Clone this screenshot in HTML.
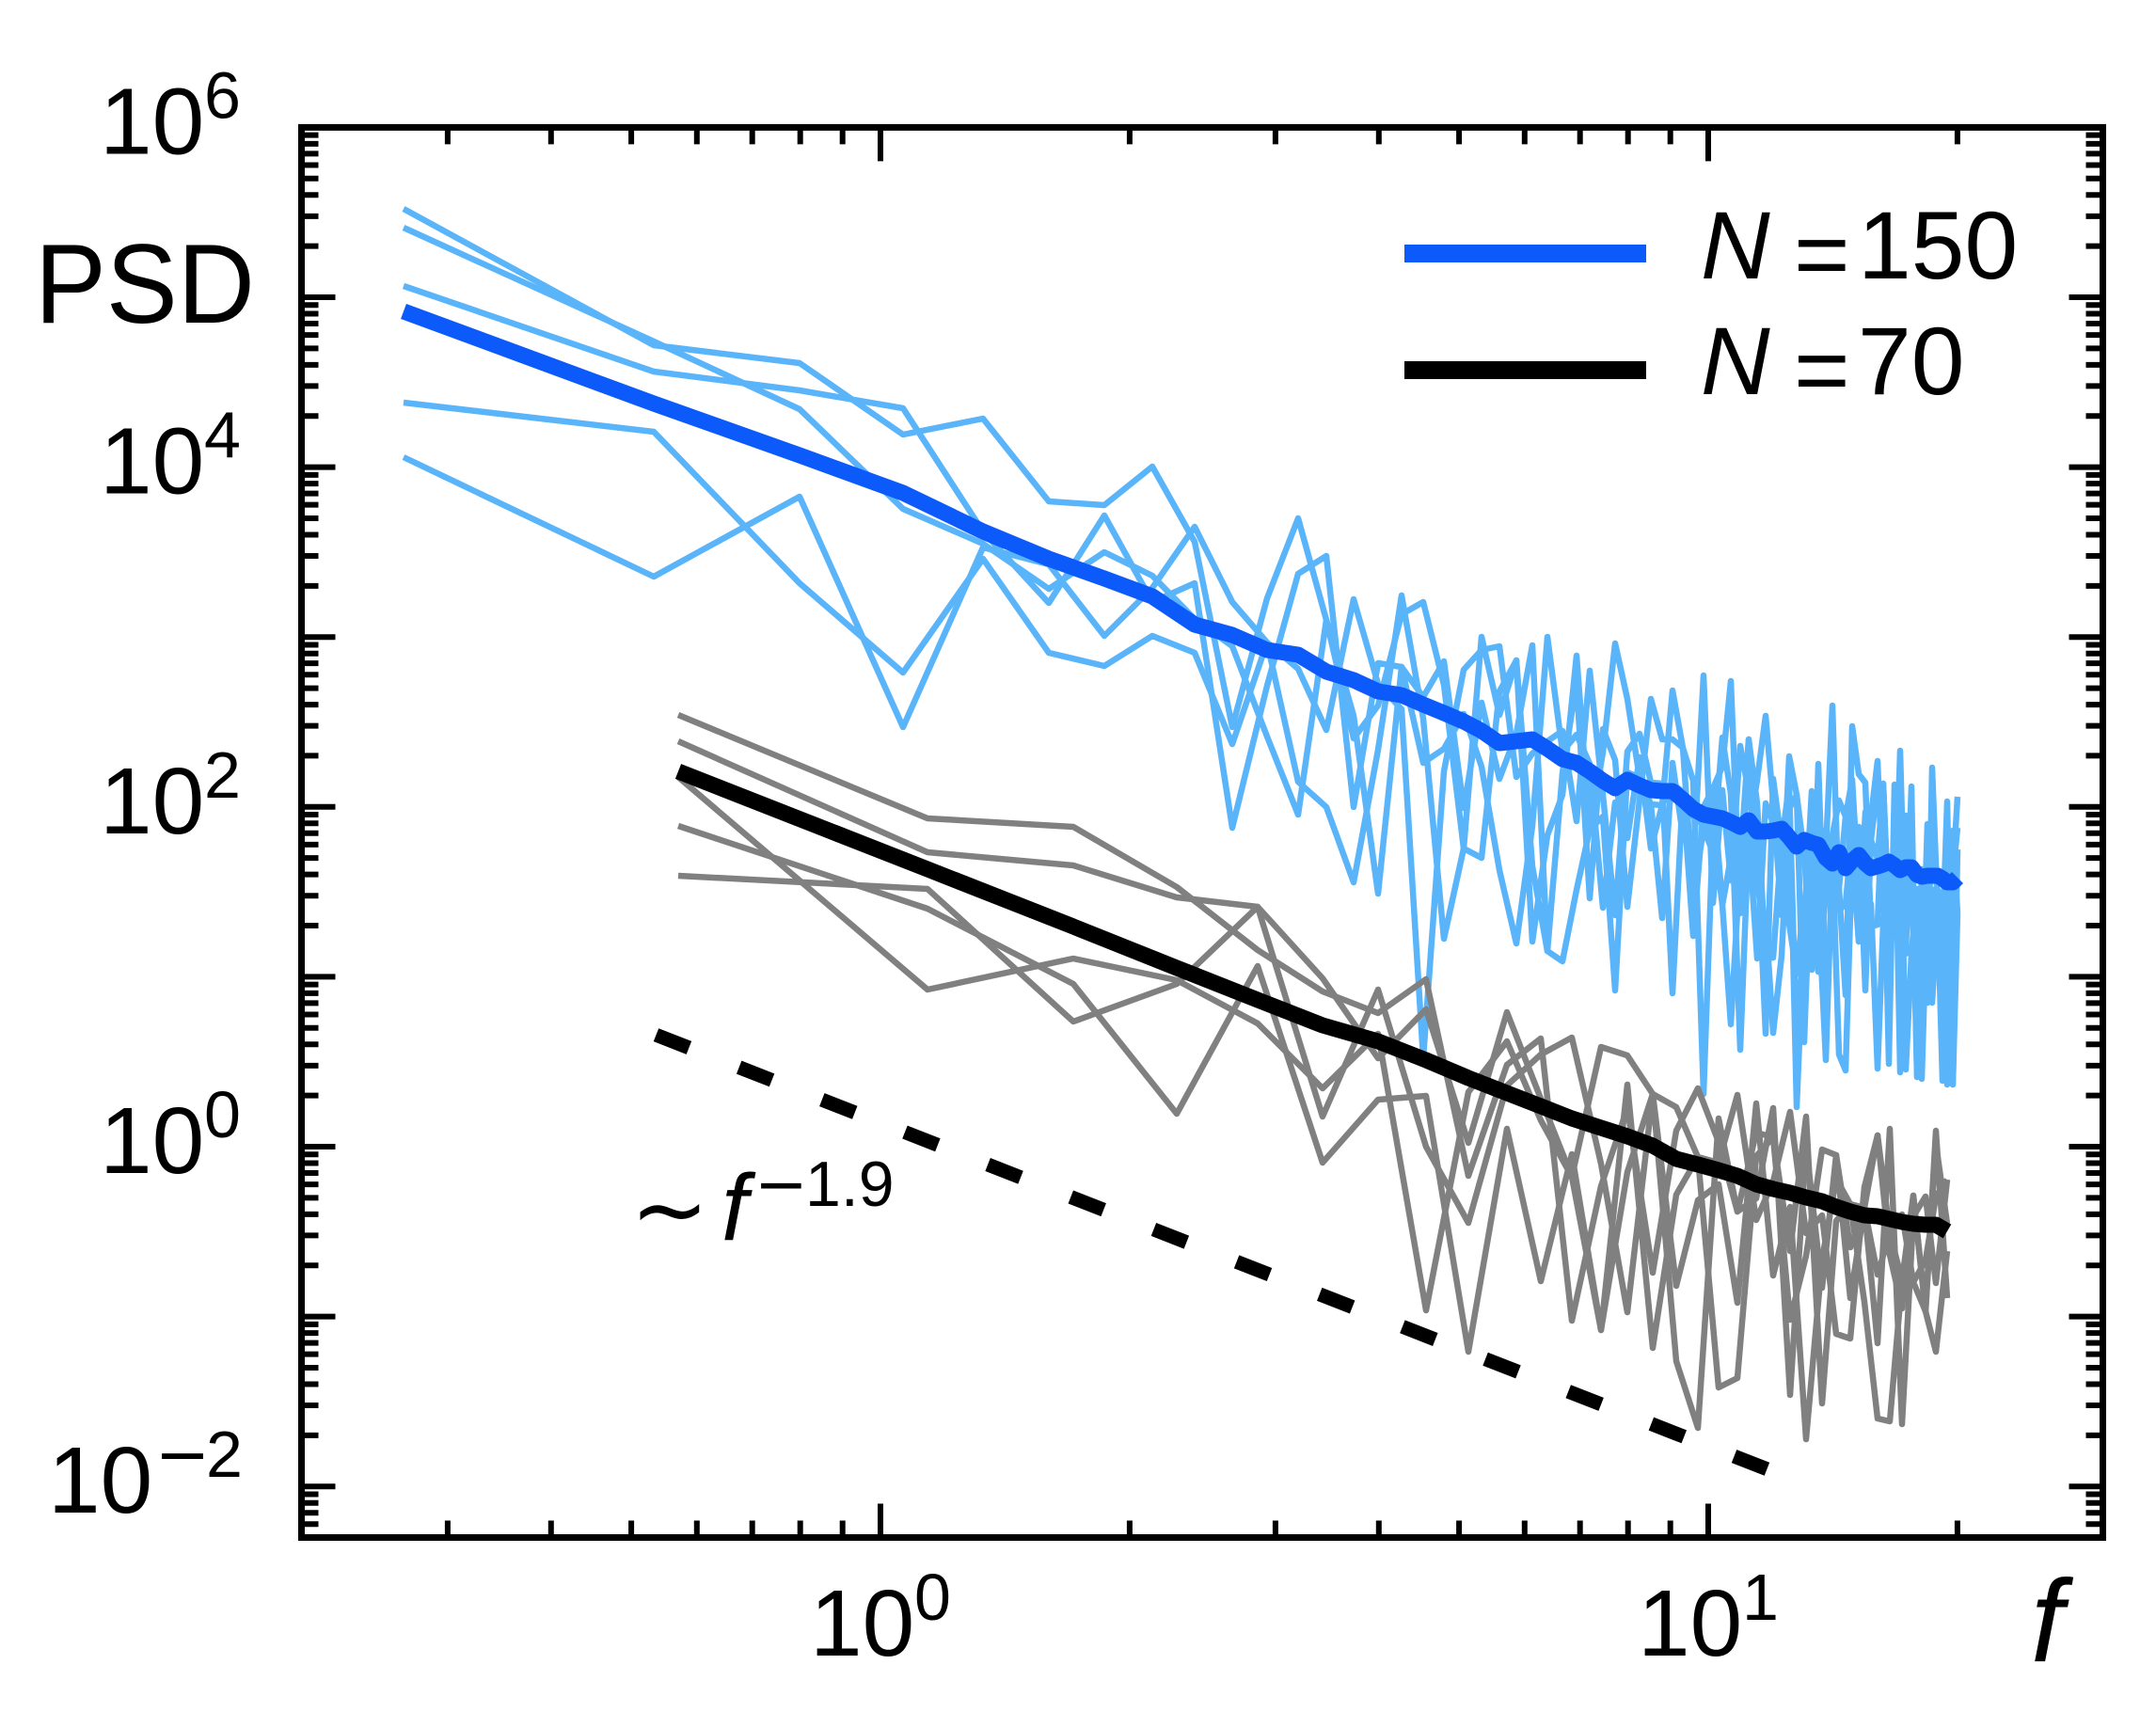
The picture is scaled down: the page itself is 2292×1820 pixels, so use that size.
<!DOCTYPE html>
<html>
<head>
<meta charset="utf-8">
<style>
html,body{margin:0;padding:0;background:#fff;}
svg{display:block;}
text{font-family:"Liberation Sans",Arial,sans-serif;fill:#000;}
.dv{font-family:"DejaVu Sans","Liberation Sans",sans-serif;}
</style>
</head>
<body>
<svg width="2292" height="1820" viewBox="0 0 2292 1820" xmlns="http://www.w3.org/2000/svg">
<rect width="2292" height="1820" fill="#fff"/>
<defs>
<path id="ml" d="M0 -54.37h18M0 -86.17h18M0 -108.73h18M0 -126.23h18M0 -140.53h18M0 -152.63h18M0 -163.1h18M0 -172.34h18"/>
<path id="mr" d="M0 -54.37h-18M0 -86.17h-18M0 -108.73h-18M0 -126.23h-18M0 -140.53h-18M0 -152.63h-18M0 -163.1h-18M0 -172.34h-18"/>
</defs>

<!-- N=150 thin lines -->
<g fill="none" stroke="#5ab4fa" stroke-width="6.5" stroke-linejoin="round">
<polyline points="429,222 695,367 850,386 960,462 1045,445 1115,533 1174,537 1225,496 1270,576 1310,773 1347,636 1380,551 1410,659 1439,761 1465,950 1490,709 1513,811 1535,796 1556,759 1575,815 1594,925 1612,1003 1629,878 1645,677 1661,799 1676,781 1690,812 1704,965 1717,853 1730,891 1743,805 1755,902 1767,856 1778,833 1789,842 1800,995 1811,858 1821,838 1831,962 1840,1089 1850,917 1859,786 1868,854 1877,1019 1885,1018 1894,896 1902,835 1910,1115 1918,985 1926,841 1933,960 1941,1127 1948,910 1955,1121 1962,1138 1969,907 1976,1001 1983,956 1989,868 1996,809 2002,957 2008,1051 2014,890 2020,839 2026,1137 2032,1014 2038,945 2043,1147 2049,946 2054,946 2060,969 2065,1149 2070,908 2076,930 2081,847"/>
<polyline points="429,242 695,363 850,435 960,541 1045,578 1115,626 1174,587 1225,612 1270,658 1310,687 1347,783 1380,866 1410,659 1439,785 1465,750 1490,653 1513,640 1535,728 1556,902 1575,677 1594,760 1612,702 1629,921 1645,1011 1661,1022 1676,946 1690,882 1704,800 1717,684 1730,743 1743,827 1755,855 1767,976 1778,811 1789,888 1800,852 1811,881 1821,838 1831,815 1840,724 1850,971 1859,786 1868,946 1877,976 1885,1098 1894,1016 1902,860 1910,845 1918,908 1926,1031 1933,812 1941,1047 1948,980 1955,944 1962,868 1969,907 1976,879 1983,1053 1989,893 1996,913 2002,833 2008,978 2014,982 2020,798 2026,1014 2032,836 2038,1145 2043,924 2049,1066 2054,946 2060,946 2065,996 2070,852 2076,1153 2081,971"/>
<polyline points="429,304 695,395 850,415 960,434 1045,565 1115,641 1174,548 1225,640 1270,620 1310,880 1347,729 1380,610 1410,591 1439,858 1465,705 1490,709 1513,741 1535,703 1556,859 1575,747 1594,828 1612,780 1629,686 1645,1011 1661,822 1676,725 1690,955 1704,775 1717,808 1730,964 1743,850 1755,743 1767,786 1778,786 1789,795 1800,952 1811,881 1821,906 1831,784 1840,844 1850,1116 1859,887 1868,829 1877,761 1885,853 1894,973 1902,804 1910,845 1918,1108 1926,888 1933,1033 1941,950 1948,888 1955,851 1962,868 1969,829 1976,947 1983,956 1989,961 1996,1136 2002,981 2008,931 2014,935 2020,987 2026,892 2032,892 2038,1145 2043,947 2049,1066 2054,816 2060,969 2065,949 2070,1153 2076,930 2081,880"/>
<polyline points="429,428 695,459 850,620 960,715 1045,594 1115,694 1174,708 1225,676 1270,694 1310,791 1347,683 1380,831 1410,858 1439,938 1465,797 1490,633 1513,764 1535,998 1556,902 1575,912 1594,735 1612,702 1629,1001 1645,888 1661,845 1676,697 1690,882 1704,868 1717,1053 1730,821 1743,827 1755,855 1767,856 1778,734 1789,795 1800,830 1811,1163 1821,883 1831,962 1840,912 1850,941 1859,887 1868,1019 1877,854 1885,875 1894,873 1902,982 1910,1035 1918,955 1926,988 1933,1033 1941,904 1948,750 1955,968 1962,961 1969,885 1976,1001 1983,863 1989,893 1996,835 2002,864 2008,1131 2014,834 2020,1140 2026,867 2032,937 2038,968 2043,994 2049,946 2054,1066 2060,969 2065,996 2070,1000 2076,1153 2081,903"/>
<polyline points="429,486 695,613 850,528 960,773 1045,582 1115,600 1174,676 1225,625 1270,560 1310,640 1347,683 1380,711 1410,776 1439,637 1465,727 1490,754 1513,1125 1535,820 1556,712 1575,691 1594,687 1612,826 1629,801 1645,788 1661,777 1676,873 1690,713 1704,845 1717,973 1730,799 1743,780 1755,832 1767,833 1778,1056 1789,842 1800,922 1811,718 1821,960 1831,840 1840,936 1850,793 1859,842 1868,899 1877,1099 1885,828 1894,896 1902,835 1910,1177 1918,985 1926,888 1933,990 1941,882 1948,933 1955,944 1962,1058 1969,772 1976,823 1983,832 1989,985 1996,983 2002,833 2008,978 2014,912 2020,870 2026,960 2032,960 2038,1065 2043,1067 2049,876 2054,1023 2060,946 2065,1069 2070,1073 2076,883 2081,971"/>
</g>
<!-- N=150 mean -->
<polyline fill="none" stroke="#0c5afa" stroke-width="17" stroke-linejoin="round" points="429,331 695,429 850,484 960,524 1045,565 1115,594 1174,615 1225,634 1270,664 1310,675 1347,691 1380,696 1410,714 1439,723 1465,735 1490,739 1513,749 1535,758 1556,767 1575,777 1594,790 1612,788 1629,786 1645,796 1661,807 1676,811 1690,820 1704,830 1717,838 1730,829 1743,835 1755,840 1767,841 1778,841 1789,850 1800,860 1811,866 1821,868 1831,870 1840,874 1850,879 1859,872 1868,884 1877,884 1885,883 1894,881 1902,890 1910,900 1918,893 1926,896 1933,898 1941,912 1948,918 1955,906 1962,923 1969,915 1976,909 1983,918 1989,923 1996,921 2002,919 2008,916 2014,920 2020,925 2026,922 2032,922 2038,930 2043,932 2049,931 2054,931 2060,931 2065,934 2070,938 2076,938 2081,933"/>

<!-- N=70 thin lines -->
<g fill="none" stroke="#808080" stroke-width="6.5" stroke-linejoin="round">
<polyline points="721,760 986,870 1141,879 1251,943 1337,1010 1406,1054 1465,1077 1516,1041 1561,1250 1602,1132 1638,1104 1671,1404 1702,1261 1730,1178 1757,1353 1782,1202 1805,1157 1827,1214 1847,1288 1867,1274 1885,1178 1903,1483 1920,1218 1937,1369 1952,1228 1967,1326 1982,1284 1996,1355 2009,1311 2022,1291 2034,1363 2047,1394 2058,1437 2070,1330"/>
<polyline points="721,788 986,906 1141,920 1251,954 1337,964 1406,1040 1465,1125 1516,1073 1561,1215 1602,1076 1638,1168 1671,1251 1702,1113 1730,1122 1757,1163 1782,1177 1805,1230 1827,1236 1847,1164 1867,1297 1885,1256 1903,1182 1920,1311 1937,1292 1952,1418 1967,1423 1982,1262 1996,1207 2009,1311 2022,1361 2034,1363 2047,1340 2058,1272 2070,1254"/>
<polyline points="721,826 986,1052 1141,1019 1251,1042 1337,1088 1406,1157 1465,1099 1516,1393 1561,1161 1602,1107 1638,1191 1671,1251 1702,1414 1730,1246 1757,1163 1782,1447 1805,1518 1827,1189 1847,1288 1867,1204 1885,1209 1903,1330 1920,1187 1937,1492 1952,1298 1967,1280 1982,1284 1996,1207 2009,1334 2022,1391 2034,1271 2047,1394 2058,1216 2070,1301"/>
<polyline points="721,878 986,966 1141,1046 1251,1184 1337,1027 1406,1236 1465,1169 1516,1165 1561,1437 1602,1200 1638,1362 1671,1227 1702,1414 1730,1153 1757,1433 1782,1270 1805,1230 1827,1475 1847,1465 1867,1229 1885,1209 1903,1403 1920,1335 1937,1222 1952,1228 1967,1380 1982,1284 1996,1428 2009,1200 2022,1514 2034,1293 2047,1272 2058,1364 2070,1254"/>
<polyline points="721,931 986,945 1141,1086 1251,1046 1337,964 1406,1187 1465,1052 1516,1219 1561,1300 1602,1154 1638,1121 1671,1103 1702,1237 1730,1395 1757,1163 1782,1367 1805,1276 1827,1259 1847,1385 1867,1173 1885,1356 1903,1283 1920,1530 1937,1339 1952,1253 1967,1280 1982,1384 1996,1508 2009,1511 2022,1361 2034,1271 2047,1394 2058,1202 2070,1380"/>
</g>
<!-- N=70 mean -->
<polyline fill="none" stroke="#000" stroke-width="17" stroke-linejoin="round" points="721,820 986,924 1141,985 1251,1029 1337,1063 1406,1090 1465,1107 1516,1127 1561,1146 1602,1162 1638,1176 1671,1189 1702,1199 1730,1208 1757,1218 1782,1232 1805,1238 1827,1244 1847,1250 1867,1259 1885,1264 1903,1268 1920,1273 1937,1277 1952,1283 1967,1288 1982,1292 1996,1293 2009,1296 2022,1299 2034,1301 2047,1302 2058,1302 2070,1309"/>

<!-- power-law guide -->
<line x1="697.5" y1="1100.2" x2="1878.5" y2="1561.8" stroke="#000" stroke-width="15" stroke-dasharray="37.5 57.15" stroke-linecap="butt"/>

<!-- ticks -->
<g stroke="#000" stroke-width="6" fill="none">
<path d="M320.5 135.4h36M320.5 316h36M320.5 496.6h36M320.5 677.2h36M320.5 857.8h36M320.5 1038.4h36M320.5 1219h36M320.5 1399.6h36M320.5 1580.2h36"/>
<path d="M2235.5 135.4h-36M2235.5 316h-36M2235.5 496.6h-36M2235.5 677.2h-36M2235.5 857.8h-36M2235.5 1038.4h-36M2235.5 1219h-36M2235.5 1399.6h-36M2235.5 1580.2h-36"/>
<use href="#ml" x="320.5" y="316"/><use href="#ml" x="320.5" y="496.6"/><use href="#ml" x="320.5" y="677.2"/><use href="#ml" x="320.5" y="857.8"/><use href="#ml" x="320.5" y="1038.4"/><use href="#ml" x="320.5" y="1219"/><use href="#ml" x="320.5" y="1399.6"/><use href="#ml" x="320.5" y="1580.2"/>
<use href="#mr" x="2235.5" y="316"/><use href="#mr" x="2235.5" y="496.6"/><use href="#mr" x="2235.5" y="677.2"/><use href="#mr" x="2235.5" y="857.8"/><use href="#mr" x="2235.5" y="1038.4"/><use href="#mr" x="2235.5" y="1219"/><use href="#mr" x="2235.5" y="1399.6"/><use href="#mr" x="2235.5" y="1580.2"/>
<path d="M320.5 1620.3h18M320.5 1608.2h18M320.5 1597.7h18M320.5 1588.5h18M2235.5 1620.3h-18M2235.5 1608.2h-18M2235.5 1597.7h-18M2235.5 1588.5h-18"/>
<path d="M936 1634.5v-36M1816 1634.5v-36M936 135.4v36M1816 135.4v36"/>
<path d="M475.9 1634.5v-18M585.8 1634.5v-18M671.1 1634.5v-18M740.8 1634.5v-18M799.7 1634.5v-18M850.7 1634.5v-18M895.7 1634.5v-18M1200.9 1634.5v-18M1355.9 1634.5v-18M1465.8 1634.5v-18M1551.1 1634.5v-18M1620.8 1634.5v-18M1679.7 1634.5v-18M1730.7 1634.5v-18M1775.7 1634.5v-18M2080.9 1634.5v-18"/>
<path d="M475.9 135.4v18M585.8 135.4v18M671.1 135.4v18M740.8 135.4v18M799.7 135.4v18M850.7 135.4v18M895.7 135.4v18M1200.9 135.4v18M1355.9 135.4v18M1465.8 135.4v18M1551.1 135.4v18M1620.8 135.4v18M1679.7 135.4v18M1730.7 135.4v18M1775.7 135.4v18M2080.9 135.4v18"/>
</g>
<!-- spines -->
<rect x="320.5" y="135.4" width="1915" height="1499.1" fill="none" stroke="#000" stroke-width="7" stroke-linejoin="miter"/>

<!-- y tick labels -->
<text x="106" y="163.4" font-size="100">10</text><text x="217" y="125.4" font-size="70">6</text>
<text x="106" y="524.6" font-size="100">10</text><text x="217" y="486.6" font-size="70">4</text>
<text x="106" y="885.8" font-size="100">10</text><text x="217" y="847.8" font-size="70">2</text>
<text x="106" y="1247" font-size="100">10</text><text x="217" y="1209" font-size="70">0</text>
<text x="51" y="1608.2" font-size="100">10</text><text class="dv" x="164.6" y="1570.2" font-size="70">−</text><text x="219" y="1570.2" font-size="70">2</text>

<!-- x tick labels -->
<text x="861" y="1760" font-size="100">10</text><text x="972" y="1722" font-size="70">0</text>
<text x="1741" y="1760" font-size="100">10</text><text x="1852" y="1722" font-size="70">1</text>

<!-- axis labels -->
<text x="37" y="343" font-size="120" textLength="234" lengthAdjust="spacingAndGlyphs">PSD</text>
<text x="2159" y="1766" font-size="124" font-style="italic">f</text>

<!-- annotation -->
<text class="dv" x="670" y="1320" font-size="100">∼</text>
<text x="767" y="1318" font-size="100" font-style="italic">f</text>
<text class="dv" x="802" y="1282" font-size="68">−</text>
<text x="856" y="1282" font-size="68">1.9</text>

<!-- legend -->
<line x1="1493" y1="269.5" x2="1750" y2="269.5" stroke="#0c5afa" stroke-width="19"/>
<line x1="1493" y1="393.5" x2="1750" y2="393.5" stroke="#000" stroke-width="19"/>
<text x="1808" y="296" font-size="102" font-style="italic">N</text><text x="1907" y="305" font-size="102">=</text><text x="1975" y="296" font-size="102">150</text>
<text x="1808" y="419" font-size="102" font-style="italic">N</text><text x="1907" y="428" font-size="102">=</text><text x="1975" y="419" font-size="102">70</text>
</svg>
</body>
</html>
